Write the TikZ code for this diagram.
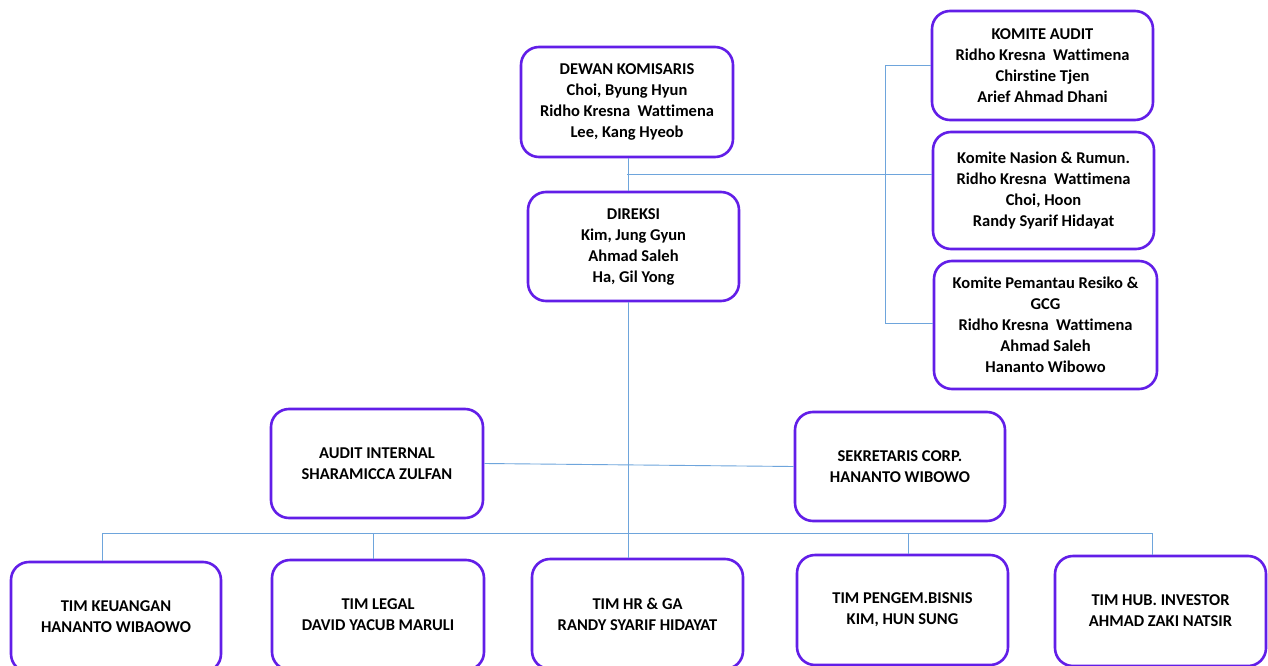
\documentclass[tikz,border=0pt]{standalone}
\usepackage{fontspec}
\setmainfont[Ligatures=NoCommon]{Carlito}
\definecolor{boxline}{RGB}{98,30,232}
\definecolor{linkline}{RGB}{110,165,220}
\tikzset{
  unit/.style={draw=boxline, line width=2.6pt, rounded corners=18pt, fill=white,
    align=center, inner sep=0pt, font=\fontsize{16.5}{21}\selectfont\bfseries},
  link/.style={draw=linkline, line width=0.9pt}
}
\begin{document}
\begin{tikzpicture}[x=1pt,y=-1pt]
\useasboundingbox (0,0) rectangle (1268,666);
\clip (0,0) rectangle (1268,666);
\fill[white] (0,0) rectangle (1268,666);

% junction points of the connectors
\coordinate (busL) at (102,533);
\coordinate (busR) at (1152,533);
\coordinate (sideTop) at (885,65);
\coordinate (sideBot) at (885,323);
\coordinate (sideMid) at (627,174);

% boards and committees
\node[unit, minimum width=212pt, minimum height=110pt] (dk) at (627,102)
  {DEWAN KOMISARIS\\Choi, Byung Hyun\\Ridho Kresna\ \ Wattimena\\Lee, Kang Hyeob};
\node[unit, minimum width=211pt, minimum height=109pt] (dir) at (633.5,246.5)
  {DIREKSI\\Kim, Jung Gyun\\Ahmad Saleh\\Ha, Gil Yong};
\node[unit, minimum width=221pt, minimum height=109pt] (ka) at (1042.5,65.5)
  {KOMITE\ AUDIT\\Ridho Kresna\ \ Wattimena\\Chirstine\ Tjen\\Arief Ahmad Dhani};
\node[unit, minimum width=221pt, minimum height=117pt] (kn) at (1043.5,190.5)
  {Komite\ Nasion \& Rumun.\\Ridho Kresna\ \ Wattimena\\Choi, Hoon\\Randy Syarif Hidayat};
\node[unit, minimum width=223pt, minimum height=128pt] (kp) at (1045.5,325)
  {Komite\ Pemantau\ Resiko \&\\GCG\\Ridho Kresna\ \ Wattimena\\Ahmad\ Saleh\\Hananto\ Wibowo};

% staff units
\node[unit, minimum width=212pt, minimum height=109pt] (ai) at (377,463.5)
  {AUDIT INTERNAL\\SHARAMICCA\ ZULFAN};
\node[unit, minimum width=210pt, minimum height=109pt] (sk) at (900,466.5)
  {SEKRETARIS\ CORP.\\HANANTO WIBOWO};

% teams
\node[unit, minimum width=210pt, minimum height=110pt] (t1) at (116,617)
  {TIM KEUANGAN\\HANANTO WIBAOWO};
\node[unit, minimum width=212pt, minimum height=110pt] (t2) at (378,615)
  {TIM LEGAL\\DAVID YACUB MARULI};
\node[unit, minimum width=211pt, minimum height=110pt] (t3) at (637.5,614)
  {TIM HR \& GA\\RANDY SYARIF HIDAYAT};
\node[unit, minimum width=211pt, minimum height=110pt] (t4) at (902.5,610)
  {TIM PENGEM.BISNIS\\KIM, HUN SUNG};
\node[unit, minimum width=211pt, minimum height=110pt] (t5) at (1160.5,611)
  {TIM HUB.\ INVESTOR\\AHMAD ZAKI NATSIR};

% connectors, each running up to the border of the boxes it joins
\draw[link] (dk.south -| 628,0) -- (dir.north -| 628,0);
\draw[link] (dir.south -| 628,0) -- (t3.north -| 628,0);
\draw[link] (sideMid) -- (kn.west |- sideMid);
\draw[link] (ka.west |- sideTop) -- (sideTop) -- (sideBot) -- (kp.west |- sideBot);
\draw[link] (ai.east) -- (sk.west);
\draw[link] (busL) -- (busR);
\draw[link] (busL) -- (t1.north -| busL);
\draw[link] (373,533) -- (t2.north -| 373,0);
\draw[link] (908,533) -- (t4.north -| 908,0);
\draw[link] (busR) -- (t5.north -| busR);
\end{tikzpicture}
\end{document}
